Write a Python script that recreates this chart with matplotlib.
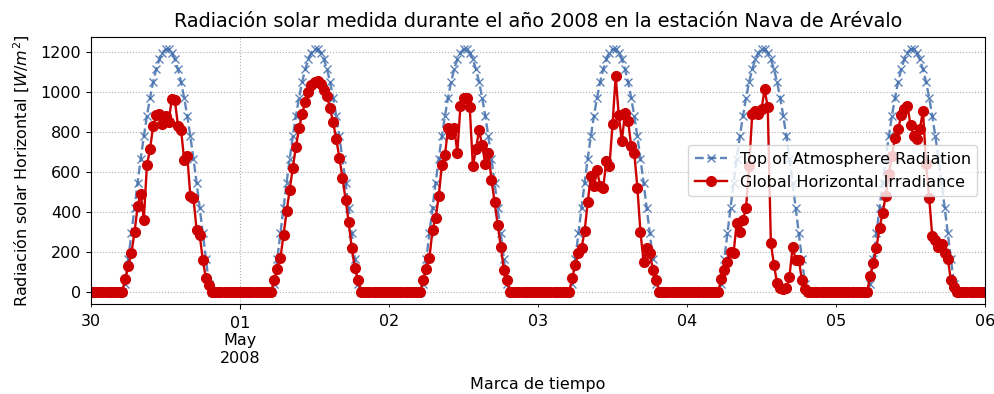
import matplotlib.pyplot as plt
import matplotlib.dates as mdates
import numpy as np
import pandas as pd

plt.rcParams['font.size'] = 11.5

# Valores diurnos cada 30 min, de 05:30 a 19:00 (28 valores por día)
# Radiación en el tope de la atmósfera (igual los seis días)
toa_dia = [38, 165, 294, 422, 546, 665, 777, 879, 970, 1049, 1113, 1162, 1196, 1213,
           1213, 1196, 1162, 1113, 1049, 970, 879, 777, 665, 546, 422, 294, 165, 38]

# Irradiancia global horizontal medida
ghi_30abr = [64, 130, 194, 298, 428, 492, 361, 633, 713, 827, 884, 889, 838, 880,
             850, 964, 960, 830, 810, 660, 680, 478, 470, 311, 286, 160, 69, 35]
ghi_01may = [60, 114, 171, 283, 403, 512, 621, 726, 817, 889, 950, 1001, 1034, 1051,
             1055, 1039, 1010, 980, 917, 847, 763, 671, 571, 462, 348, 219, 119, 60]
ghi_02may = [60, 114, 169, 311, 370, 478, 633, 683, 817, 790, 820, 696, 930, 967,
             967, 922, 629, 713, 810, 733, 638, 696, 562, 448, 336, 227, 110, 60]
ghi_03may = [69, 136, 194, 219, 303, 448, 579, 529, 609, 529, 521, 654, 629, 838,
             1078, 884, 755, 894, 855, 730, 696, 521, 298, 152, 219, 194, 110, 60]
ghi_04may = [64, 110, 152, 202, 197, 345, 298, 361, 420, 629, 889, 905, 889, 914,
             1014, 922, 244, 136, 44, 19, 14, 19, 77, 227, 161, 161, 60, 14]
ghi_05may = [80, 147, 220, 320, 395, 478, 590, 680, 771, 813, 884, 914, 930, 833,
             780, 763, 813, 905, 640, 470, 278, 261, 227, 240, 194, 164, 60, 27]

dias_ghi = [ghi_30abr, ghi_01may, ghi_02may, ghi_03may, ghi_04may, ghi_05may]

# Noche: 00:00-05:00 (11 valores) y 19:30-23:30 (9 valores) a cero
def dia_completo(valores):
    return np.concatenate([np.zeros(11), valores, np.zeros(9)])

toa = np.concatenate([dia_completo(toa_dia) for _ in dias_ghi] + [[0]])
ghi = np.concatenate([dia_completo(d) for d in dias_ghi] + [[0]])

tiempo = pd.date_range('2008-04-30 00:00', '2008-05-06 00:00', freq='30min')

fig = plt.figure(figsize=(9.95, 3.94), dpi=100)
ax = fig.add_axes([0.0915, 0.228, 0.8985, 0.678])

ax.plot(tiempo, toa, linestyle='--', marker='x', color='#4470ad', alpha=0.85,
        markersize=6, linewidth=1.7, label='Top of Atmosphere Radiation')
ax.plot(tiempo, ghi, linestyle='-', marker='o', color='#cc0000',
        markersize=7, linewidth=1.7, label='Global Horizontal Irradiance')

ax.set_xlim(tiempo[0], tiempo[-1])

# Ejes de fechas al estilo de pandas
ax.xaxis.set_major_locator(mdates.DayLocator(bymonthday=1))
ax.xaxis.set_major_formatter(mdates.DateFormatter('%d\n%b\n%Y'))
ax.xaxis.set_minor_locator(mdates.DayLocator(bymonthday=[2, 3, 4, 5, 6, 30]))
ax.xaxis.set_minor_formatter(mdates.DateFormatter('%d'))
ax.tick_params(axis='x', which='both', labelsize=11.5, pad=5)
ax.set_yticks(range(0, 1201, 200))

ax.set_title('Radiación solar medida durante el año 2008 en la estación Nava de Arévalo',
             fontsize=13.8, pad=7)
ax.set_xlabel('Marca de tiempo', labelpad=8)
ax.set_ylabel('Radiación solar Horizontal [$W/m^2$]', labelpad=6)

ax.grid(True, which='major', linestyle=':', color='#b0b0b0')
ax.legend(loc='center right')

fig.savefig('out.png', dpi=100)
